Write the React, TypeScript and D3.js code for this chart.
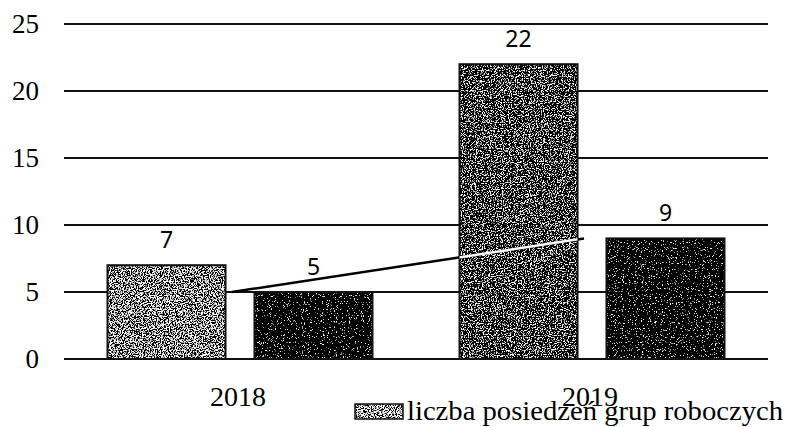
import * as d3 from 'd3';

const categories = ['2018', '2019'];
const seriesNames = ['liczba posiedzeń grup roboczych', 'seria 2'];
const seriesValues = [
  [7, 22],
  [5, 9],
];
const lineValues = [5, 9];
const yTicks = [0, 5, 10, 15, 20, 25];

// noise threshold per bar (higher = darker), [series][category]
const grainThreshold = [
  [0.52, 0.585],
  [0.69, 0.69],
];

const W = 793;
const H = 427;

function Grain({ id, thr, seed }: { id: string; thr: number; seed: number }) {
  const slope = 9;
  const icpt = 0.5 - slope * thr;
  return (
    <filter id={id} x="0" y="0" width="1" height="1">
      <feTurbulence type="fractalNoise" baseFrequency="0.85" numOctaves="2" seed={seed} />
      <feColorMatrix type="matrix" values="1 0 0 0 0  1 0 0 0 0  1 0 0 0 0  0 0 0 0 1" />
      <feComponentTransfer>
        <feFuncR type="linear" slope={slope} intercept={icpt} />
        <feFuncG type="linear" slope={slope} intercept={icpt} />
        <feFuncB type="linear" slope={slope} intercept={icpt} />
      </feComponentTransfer>
      <feComposite in2="SourceGraphic" operator="in" />
    </filter>
  );
}

export default function App() {
  const y = d3.scaleLinear().domain([0, 25]).range([359, 24]);
  const x = d3.scaleBand<string>().domain(categories).range([64, 768]);
  const xs = d3
    .scaleBand<number>()
    .domain(seriesValues.map((_, i) => i))
    .range([0, x.bandwidth()])
    .paddingInner(0.197)
    .paddingOuter(0.296);

  const line = d3
    .line<number>()
    .x((_, i) => x(categories[i])! + x.bandwidth() / 2 - 8)
    .y((d) => y(d));

  const bars = seriesValues.flatMap((vals, s) =>
    vals.map((v, c) => ({
      s,
      c,
      v,
      x0: x(categories[c])! + xs(s)!,
      w: xs.bandwidth(),
    }))
  );

  const serif = '"Liberation Serif", "Times New Roman", serif';
  const sans = '"Noto Sans", "DejaVu Sans", sans-serif';

  return (
    <>
      <style>{`body{margin:0}`}</style>
      <svg width={W} height={H} style={{ display: 'block', background: '#fff' }}>
        <defs>
          {bars.map((b) => (
            <Grain key={`f${b.s}${b.c}`} id={`g${b.s}${b.c}`} thr={grainThreshold[b.s][b.c]} seed={b.s * 3 + b.c + 1} />
          ))}
          <Grain id="glegend" thr={0.5} seed={9} />
          <clipPath id="clipBar">
            <rect x={x(categories[1])! + xs(0)!} y={y(seriesValues[0][1])} width={xs.bandwidth()} height={y(0) - y(seriesValues[0][1])} />
          </clipPath>
        </defs>

        {/* gridlines */}
        {yTicks.map((t) => (
          <line key={t} x1={64} x2={768} y1={y(t)} y2={y(t)} stroke="#111" strokeWidth={2} />
        ))}
        {/* y tick labels */}
        {yTicks.map((t) => (
          <text key={`l${t}`} x={39} y={y(t)} dy="0.34em" textAnchor="end" fontFamily={serif} fontSize={27} fill="#000">
            {t}
          </text>
        ))}

        {/* bars */}
        {bars.map((b) => (
          <g key={`b${b.s}${b.c}`}>
            <rect x={b.x0} y={y(b.v)} width={b.w} height={y(0) - y(b.v)} fill="#000" filter={`url(#g${b.s}${b.c})`} />
            <rect x={b.x0} y={y(b.v)} width={b.w} height={y(0) - y(b.v)} fill="none" stroke="#111" strokeWidth={2} />
            <text x={b.x0 + b.w / 2} y={y(b.v) - 17} textAnchor="middle" fontFamily={sans} fontSize={23} fill="#000">
              {b.v}
            </text>
          </g>
        ))}

        {/* trend line */}
        <path d={line(lineValues)!} fill="none" stroke="#000" strokeWidth={2.5} />
        <path d={line(lineValues)!} fill="none" stroke="#fff" strokeWidth={2.5} clipPath="url(#clipBar)" />

        {/* x labels */}
        {categories.map((c) => (
          <text key={c} x={x(c)! + x.bandwidth() / 2 - 2} y={406} textAnchor="middle" fontFamily={serif} fontSize={28} fill="#000">
            {c}
          </text>
        ))}

        {/* legend */}
        <rect x={355} y={404} width={48} height={15} fill="#000" filter="url(#glegend)" />
        <rect x={355} y={404} width={48} height={15} fill="none" stroke="#111" strokeWidth={1.5} />
        <text x={407} y={420} fontFamily={serif} fontSize={28} textLength={376} lengthAdjust="spacingAndGlyphs" fill="#000">
          {seriesNames[0]}
        </text>
      </svg>
    </>
  );
}
